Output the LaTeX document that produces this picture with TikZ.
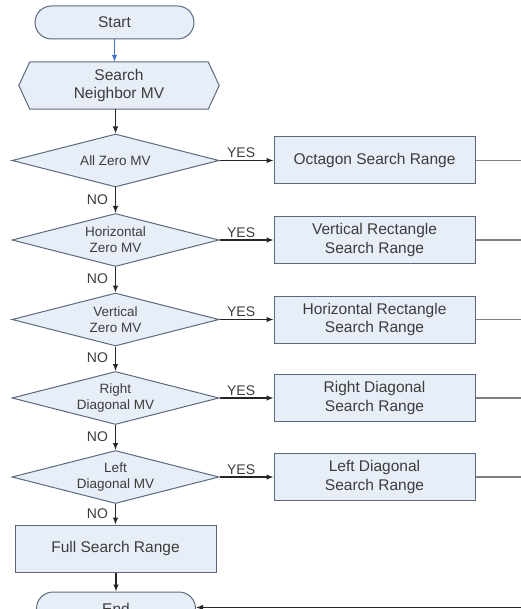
\documentclass[tikz,border=0pt]{standalone}
\usepackage{fontspec}
\setmainfont{Liberation Sans}
\usetikzlibrary{shapes.geometric,shapes.misc,arrows.meta,backgrounds}
\definecolor{boxfill}{HTML}{E8EEF7}
\definecolor{boxline}{HTML}{5A697E}
\definecolor{txt}{HTML}{3C3C3C}
\definecolor{startarrow}{HTML}{4472C4}
\definecolor{busline}{HTML}{808080}

\begin{document}
\begin{tikzpicture}[x=1pt,y=-1pt,
  outline/.style={draw=boxline, fill=boxfill, line width=1pt},
  base/.style={outline, text=txt, inner sep=0pt, align=center},
  terminal/.style={base, rounded rectangle, minimum width=159, minimum height=33,
    font=\fontsize{15.5}{18}\selectfont},
  hexlabel/.style={inner sep=0pt, minimum width=200, minimum height=47, align=center,
    text=txt, font=\fontsize{15.5}{18.5}\selectfont},
  decision/.style={base, diamond, shape aspect=3.9, minimum width=207, minimum height=53,
    font=\fontsize{13.5}{16}\selectfont},
  process/.style={base, rectangle, minimum width=201, minimum height=47,
    font=\fontsize{15.5}{18.5}\selectfont},
  flow/.style={-{Latex[length=7pt,width=5.5pt]}, line width=1.1pt, draw=black!85},
  bus/.style={line width=1.1pt, draw=busline},
  tag/.style={font=\fontsize{14}{16}\selectfont, text=txt, inner sep=1pt},
  yestag/.style={tag, above=1pt, pos=0.4},
  notag/.style={tag, left=6pt, yshift=1pt}]

\useasboundingbox (0,0) rectangle (520,609);

% left column
\node[terminal] (start) at (114.5,22.5) {Start};
\node[hexlabel] (search) at (119,85.5) {Search\\Neighbor MV};
\begin{scope}[on background layer]
  \draw[outline] ([xshift=11pt]search.north west) -- ([xshift=-11pt]search.north east)
    -- (search.east) -- ([xshift=-11pt]search.south east)
    -- ([xshift=11pt]search.south west) -- (search.west) -- cycle;
\end{scope}

\node[decision] (d1) at (115.5,160.5) {All Zero MV};
\node[decision] (d2) at (115.5,240) {Horizontal\\Zero MV};
\node[decision] (d3) at (115.5,319.5) {Vertical\\Zero MV};
\node[decision] (d4) at (115.5,398) {Right\\Diagonal MV};
\node[decision] (d5) at (115.5,477) {Left\\Diagonal MV};
\node[process] (full) at (115.5,548.5) {Full Search Range};
\node[terminal] (end) at (116,608.5) {End};

% right column
\node[process] (b1) at (374.5,160.5) {Octagon Search Range};
\node[process] (b2) at (374.5,240) {Vertical Rectangle\\Search Range};
\node[process] (b3) at (374.5,319.5) {Horizontal Rectangle\\Search Range};
\node[process] (b4) at (374.5,398) {Right Diagonal\\Search Range};
\node[process] (b5) at (374.5,477) {Left Diagonal\\Search Range};

% collecting line on the far right
\coordinate (bus) at (560,0);
\coordinate (busEnd) at (560,607.5);

% main flow
\draw[flow, draw=startarrow] (start.south) -- (start.south |- search.north);
\draw[flow] (d1.north |- search.south) -- (d1.north);
\draw[flow] (d1.south) -- node[notag] {NO} (d2.north);
\draw[flow] (d2.south) -- node[notag] {NO} (d3.north);
\draw[flow] (d3.south) -- node[notag] {NO} (d4.north);
\draw[flow] (d4.south) -- node[notag] {NO} (d5.north);
\draw[flow] (d5.south) -- node[notag] {NO} (full.north);
\draw[flow] (end.north |- full.south) -- (end.north);

% YES branches
\draw[flow] (d1.east) -- node[yestag] {YES} (b1.west);
\draw[flow] (d2.east) -- node[yestag] {YES} (b2.west);
\draw[flow] (d3.east) -- node[yestag] {YES} (b3.west);
\draw[flow] (d4.east) -- node[yestag] {YES} (b4.west);
\draw[flow] (d5.east) -- node[yestag] {YES} (b5.west);

% return to End
\draw[bus] (b1.east) -- (b1.east -| bus) -- (busEnd);
\draw[bus] (b2.east) -- (b2.east -| bus);
\draw[bus] (b3.east) -- (b3.east -| bus);
\draw[bus] (b4.east) -- (b4.east -| bus);
\draw[bus] (b5.east) -- (b5.east -| bus);
\draw[flow] (busEnd) -- (busEnd -| end.east);
\end{tikzpicture}
\end{document}
